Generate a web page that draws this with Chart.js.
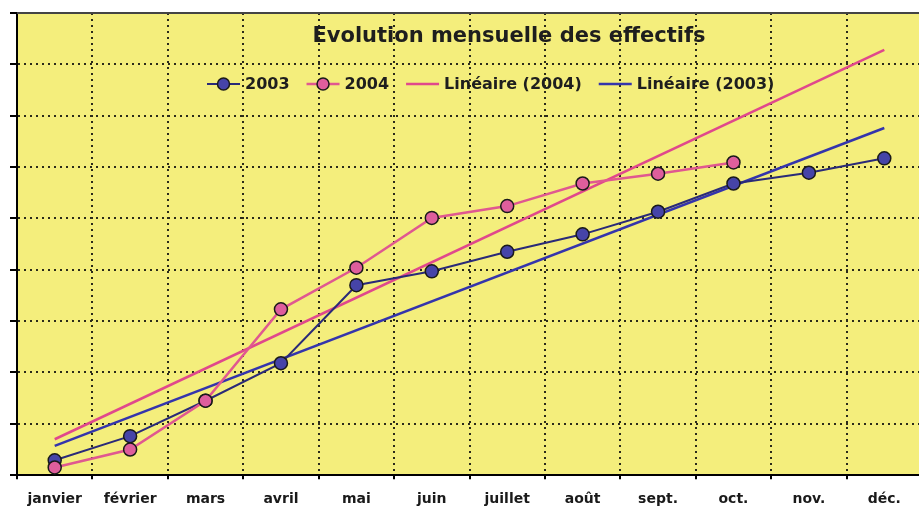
<!DOCTYPE html>
<html lang="fr">
<head>
<meta charset="utf-8">
<script src="https://cdn.jsdelivr.net/npm/chart.js@4.4.0/dist/chart.umd.min.js"></script>
<style>
  html, body { margin: 0; padding: 0; background: #fff; overflow: hidden; }
  #wrap { width: 930px; height: 520px; }
</style>
</head>
<body>
<div id="wrap"><canvas id="chart"></canvas></div>
<script>
// valeurs (unités = lignes de grille)
const months = ['janvier', 'février', 'mars', 'avril', 'mai', 'juin', 'juillet', 'août', 'sept.', 'oct.', 'nov.', 'déc.'];
const effectifs2003 = [0.29, 0.76, 1.45, 2.18, 3.70, 3.97, 4.35, 4.69, 5.13, 5.68, 5.89, 6.17];
const effectifs2004 = [0.15, 0.50, 1.45, 3.23, 4.04, 5.01, 5.24, 5.68, 5.87, 6.09, null, null];
// droites de tendance : extrémités
const tendance2003 = [0.57, null, null, null, null, null, null, null, null, null, null, 6.76];
const tendance2004 = [0.70, null, null, null, null, null, null, null, null, null, null, 8.28];
const titre = 'Evolution mensuelle des effectifs';

const BLUE_FILL = '#4644a8';
const PINK_FILL = '#de5e9c';
const FONT = '"DejaVu Sans", Verdana, sans-serif';

// fond jaune, cadre, titre et légende dessinés dans la zone du graphique
const plotFrame = {
  id: 'plotFrame',
  beforeDraw(chart) {
    const { ctx, chartArea: a } = chart;
    ctx.save();
    ctx.fillStyle = '#f4ee7c';
    ctx.fillRect(a.left, a.top, a.right - a.left, a.bottom - a.top);
    ctx.restore();
  },
  afterDraw(chart) {
    const { ctx, chartArea: a } = chart;
    ctx.save();
    ctx.strokeStyle = '#444';
    ctx.lineWidth = 2;
    ctx.beginPath();
    ctx.moveTo(a.left, a.top);
    ctx.lineTo(a.right, a.top);
    ctx.stroke();

    ctx.fillStyle = '#1e1e1e';
    ctx.textBaseline = 'middle';
    ctx.textAlign = 'center';
    ctx.font = 'bold 21px ' + FONT;
    ctx.fillText(titre, 509, a.top + 24);

    // légende
    ctx.font = 'bold 16px ' + FONT;
    ctx.textAlign = 'left';
    const y = a.top + 71;
    let x = 207;
    chart.data.datasets.forEach(ds => {
      ctx.strokeStyle = ds.borderColor;
      ctx.lineWidth = ds.borderWidth;
      ctx.beginPath();
      ctx.moveTo(x, y);
      ctx.lineTo(x + 33, y);
      ctx.stroke();
      if (ds.pointRadius > 0) {
        ctx.fillStyle = ds.pointBackgroundColor;
        ctx.strokeStyle = ds.pointBorderColor;
        ctx.lineWidth = ds.pointBorderWidth;
        ctx.beginPath();
        ctx.arc(x + 16.5, y, 6, 0, Math.PI * 2);
        ctx.fill();
        ctx.stroke();
      }
      ctx.fillStyle = '#1e1e1e';
      ctx.fillText(ds.label, x + 38, y + 1);
      x += 38 + ctx.measureText(ds.label).width + 17;
    });
    ctx.restore();
  }
};

const gridStyle = {
  color: '#2a2a1a',
  lineWidth: 2,
  tickColor: '#000',
  tickWidth: 2,
  tickBorderDash: []
};

new Chart(document.getElementById('chart'), {
  type: 'line',
  data: {
    labels: months,
    datasets: [
      {
        label: '2003',
        data: effectifs2003,
        borderColor: '#2a2a78',
        borderWidth: 2,
        pointRadius: 6.5,
        pointBackgroundColor: BLUE_FILL,
        pointBorderColor: '#1a1a1a',
        pointBorderWidth: 1.5,
        order: 1
      },
      {
        label: '2004',
        data: effectifs2004,
        borderColor: '#e05890',
        borderWidth: 2.5,
        pointRadius: 6.5,
        pointBackgroundColor: PINK_FILL,
        pointBorderColor: '#1a1a1a',
        pointBorderWidth: 1.5,
        order: 0
      },
      {
        label: 'Linéaire (2004)',
        data: tendance2004,
        borderColor: '#e0488c',
        borderWidth: 2.5,
        pointRadius: 0,
        spanGaps: true,
        order: 3
      },
      {
        label: 'Linéaire (2003)',
        data: tendance2003,
        borderColor: '#3434ac',
        borderWidth: 2.5,
        pointRadius: 0,
        spanGaps: true,
        order: 2
      }
    ]
  },
  options: {
    responsive: true,
    maintainAspectRatio: false,
    animation: false,
    events: [],
    layout: { padding: { left: 10, top: 13, right: 4, bottom: 0 } },
    plugins: {
      legend: { display: false },
      title: { display: false },
      tooltip: { enabled: false }
    },
    scales: {
      x: {
        offset: true,
        grid: Object.assign({ offset: true, tickLength: 4 }, gridStyle),
        border: { color: '#000', width: 2, dash: [2, 4] },
        ticks: {
          color: '#1a1a1a',
          padding: 12,
          maxRotation: 0,
          autoSkip: false,
          font: { family: FONT, size: 14, weight: 'bold' }
        }
      },
      y: {
        min: 0,
        max: 9,
        ticks: { display: false, stepSize: 1 },
        grid: Object.assign({ tickLength: 7 }, gridStyle),
        border: { color: '#000', width: 2, dash: [2, 4] }
      }
    }
  },
  plugins: [plotFrame]
});
</script>
</body>
</html>
